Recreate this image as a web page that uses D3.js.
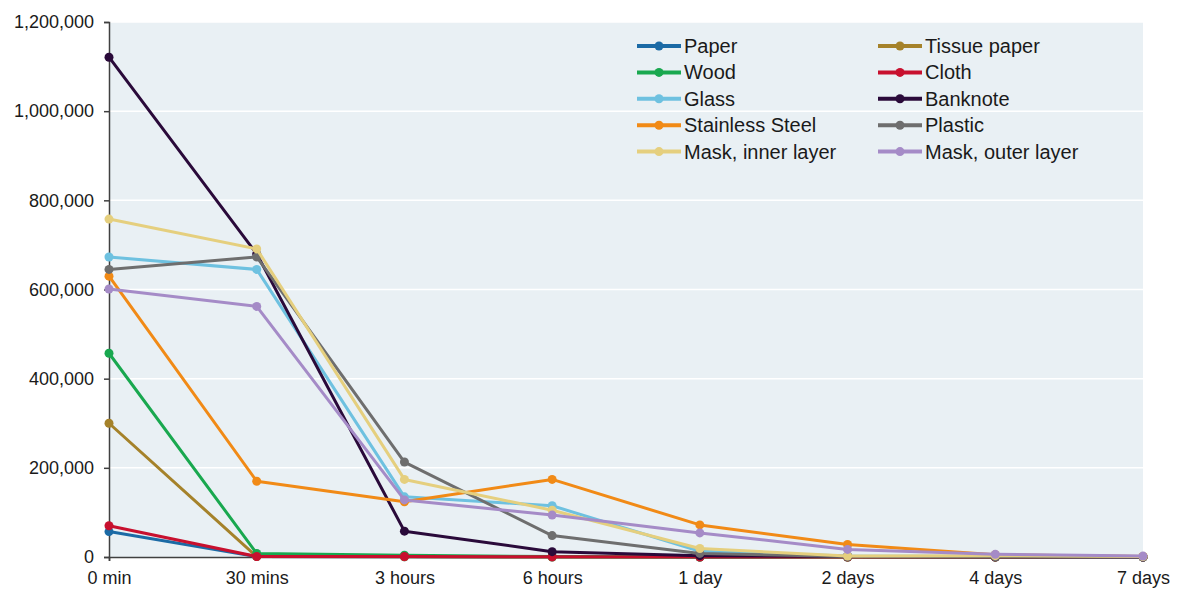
<!DOCTYPE html>
<html>
<head>
<meta charset="utf-8">
<script src="https://cdn.jsdelivr.net/npm/d3@7"></script>
<style>
  body { margin: 0; background: #ffffff; }
  svg text { font-family: "Liberation Sans", Arial, sans-serif; fill: #1a1a1a; }
</style>
</head>
<body>
<div id="chart"></div>
<script>
// time points on the x axis
var categories = ["0 min", "30 mins", "3 hours", "6 hours", "1 day", "2 days", "4 days", "7 days"];

// values
var paper          = [57000, 1000, 500, 0, 0, 0, 0, 0];
var tissuePaper    = [300000, 1000, 500, 0, 0, 0, 0, 0];
var wood           = [457000, 8000, 4000, 1000, 0, 0, 0, 0];
var cloth          = [70000, 1000, 1000, 500, 0, 0, 0, 0];
var glass          = [673000, 645000, 135000, 115000, 13000, 2000, 1000, 500];
var banknote       = [1121000, 680000, 58000, 12000, 3000, 1000, 500, 0];
var stainlessSteel = [630000, 170000, 124000, 174000, 72000, 28000, 5000, 1000];
var plastic        = [645000, 673000, 213000, 48000, 8000, 1000, 500, 0];
var maskInner      = [758000, 691000, 174000, 105000, 19000, 2000, 3000, 1000];
var maskOuter      = [601000, 562000, 128000, 94000, 54000, 17000, 6000, 2000];

var seriesNames = ["Paper", "Tissue paper", "Wood", "Cloth", "Glass", "Banknote",
                   "Stainless Steel", "Plastic", "Mask, inner layer", "Mask, outer layer"];
var seriesValues = [paper, tissuePaper, wood, cloth, glass, banknote,
                    stainlessSteel, plastic, maskInner, maskOuter];
var seriesColors = ["#1b6aa5", "#a5822a", "#19a84f", "#c8102e", "#6ec1e0", "#2a0a3a",
                    "#f18a16", "#6e6e6e", "#e5cf7e", "#a58bc7"];

var yTicks = [0, 200000, 400000, 600000, 800000, 1000000, 1200000];

var width = 1178;
var height = 590;
// plot box (top is a reserved name on window, so keep these prefixed)
var plotLeft = 109, plotRight = 1143, plotTop = 22, plotBottom = 557;

var svg = d3.select("#chart")
            .append("svg")
            .attr("width", width)
            .attr("height", height);

// scales
var xScale = d3.scalePoint()
               .domain(categories)
               .range([plotLeft, plotRight])
               .padding(0);

var yScale = d3.scaleLinear()
               .domain([0, 1200000])
               .range([plotBottom, plotTop]);

// plot background
svg.append("rect")
   .attr("x", plotLeft)
   .attr("y", plotTop)
   .attr("width", plotRight - plotLeft)
   .attr("height", plotBottom - plotTop)
   .attr("fill", "#e9f0f4");

// white gridlines
svg.selectAll(".grid")
   .data(yTicks.slice(1))
   .enter()
   .append("line")
   .attr("class", "grid")
   .attr("x1", plotLeft)
   .attr("x2", plotRight)
   .attr("y1", function(d) { return yScale(d); })
   .attr("y2", function(d) { return yScale(d); })
   .attr("stroke", "#ffffff")
   .attr("stroke-width", 1.5);

// y axis
var yAxis = svg.append("g")
               .attr("transform", "translate(" + plotLeft + ",0)")
               .call(d3.axisLeft(yScale)
                       .tickValues(yTicks)
                       .tickSize(5)
                       .tickPadding(10)
                       .tickFormat(d3.format(",")));

// x axis
var xAxis = svg.append("g")
               .attr("transform", "translate(0," + plotBottom + ")")
               .call(d3.axisBottom(xScale)
                       .tickSize(4)
                       .tickPadding(10));

[yAxis, xAxis].forEach(function(ax) {
    ax.select(".domain").attr("stroke", "#404040").attr("stroke-width", 1.5);
    ax.selectAll(".tick line").attr("stroke", "#404040").attr("stroke-width", 1.5);
    ax.selectAll(".tick text")
      .style("font-size", "18px")
      .style("font-family", "'Liberation Sans', Arial, sans-serif")
      .attr("fill", "#1a1a1a");
});

// lines and markers
var line = d3.line()
             .x(function(d, i) { return xScale(categories[i]); })
             .y(function(d) { return yScale(d); });

seriesValues.forEach(function(vals, s) {
    var g = svg.append("g");
    g.append("path")
     .attr("d", line(vals))
     .attr("fill", "none")
     .attr("stroke", seriesColors[s])
     .attr("stroke-width", 3)
     .attr("stroke-linejoin", "round");
    g.selectAll("circle")
     .data(vals)
     .enter()
     .append("circle")
     .attr("cx", function(d, i) { return xScale(categories[i]); })
     .attr("cy", function(d) { return yScale(d); })
     .attr("r", 4.5)
     .attr("fill", seriesColors[s]);
});

// legend, two columns
var legend = svg.append("g");
var colX = [637, 878];
var rowY = 46, rowGap = 26.4;

seriesNames.forEach(function(name, s) {
    var x = colX[s % 2];
    var y = rowY + Math.floor(s / 2) * rowGap;
    legend.append("line")
          .attr("x1", x).attr("x2", x + 44)
          .attr("y1", y).attr("y2", y)
          .attr("stroke", seriesColors[s])
          .attr("stroke-width", 4);
    legend.append("circle")
          .attr("cx", x + 22).attr("cy", y)
          .attr("r", 4.5)
          .attr("fill", seriesColors[s]);
    legend.append("text")
          .attr("x", x + 47)
          .attr("y", y)
          .attr("dy", "0.35em")
          .style("font-size", "20px")
          .text(name);
});
</script>
</body>
</html>
